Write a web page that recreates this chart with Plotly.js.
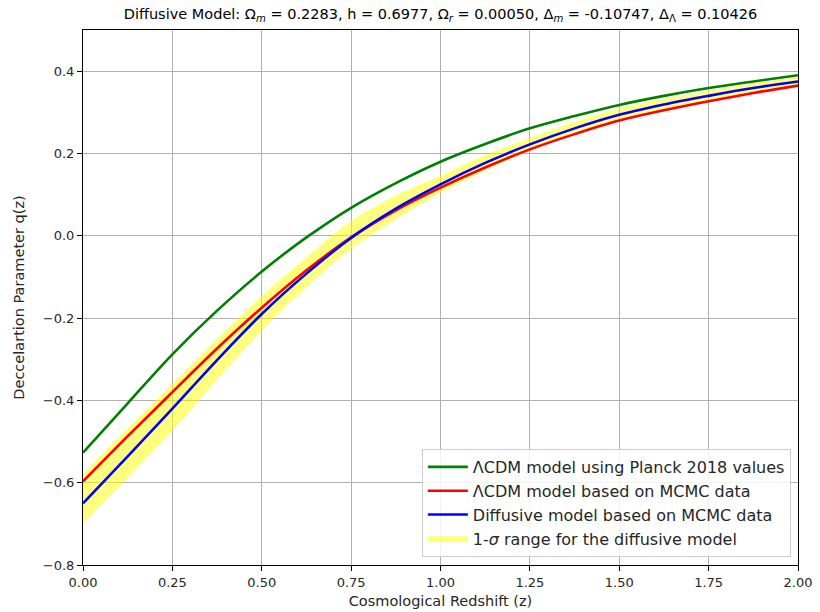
<!DOCTYPE html>
<html>
<head>
<meta charset="utf-8">
<script src="https://cdn.plot.ly/plotly-3.0.1.min.js"></script>
<style>html,body{margin:0;padding:0;background:#fff;}#chart{width:820px;height:612px;}</style>
</head>
<body>
<div id="chart"></div>
<script>
// Redshift samples
const z = [0, 0.125, 0.25, 0.375, 0.5, 0.625, 0.75, 0.875, 1.0, 1.125, 1.25, 1.375, 1.5, 1.625, 1.75, 1.875, 2.0];
// LCDM with Planck 2018 values (green)
const qPlanck = [-0.527, -0.407, -0.288, -0.182, -0.087, -0.004, 0.068, 0.128, 0.180, 0.223, 0.261, 0.291, 0.318, 0.340, 0.359, 0.375, 0.390];
// LCDM based on MCMC data (red)
const qLcdmMcmc = [-0.597, -0.487, -0.380, -0.274, -0.175, -0.084, -0.004, 0.062, 0.117, 0.166, 0.210, 0.247, 0.280, 0.305, 0.327, 0.347, 0.365];
// Diffusive model based on MCMC data (blue)
const qDiffusive = [-0.650, -0.536, -0.420, -0.302, -0.190, -0.092, -0.005, 0.066, 0.125, 0.177, 0.222, 0.261, 0.294, 0.319, 0.340, 0.359, 0.375];
// 1-sigma range for the diffusive model (yellow band)
const qUpper = [-0.580, -0.468, -0.360, -0.250, -0.146, -0.052, 0.036, 0.098, 0.146, 0.196, 0.238, 0.277, 0.309, 0.333, 0.352, 0.370, 0.386];
const qLower = [-0.700, -0.588, -0.474, -0.350, -0.231, -0.125, -0.032, 0.040, 0.104, 0.158, 0.206, 0.247, 0.280, 0.306, 0.328, 0.348, 0.365];

const yTicks = [-0.8, -0.6, -0.4, -0.2, 0.0, 0.2, 0.4];
const xTicks = [0, 0.25, 0.5, 0.75, 1.0, 1.25, 1.5, 1.75, 2.0];

const font = 'DejaVu Sans, sans-serif';

const traces = [
  {x: z, y: qLower, mode: 'lines', line: {width: 0, color: 'rgba(255,255,0,0)', shape: 'spline'},
   showlegend: false, hoverinfo: 'skip'},
  {x: z, y: qUpper, mode: 'lines', fill: 'tonexty', fillcolor: 'rgba(255,255,0,0.5)',
   line: {width: 0, color: 'rgba(255,255,0,0)', shape: 'spline'},
   name: '1-<i>σ</i> range for the diffusive model', legendrank: 4, legendgroup: 'd'},
  {x: z, y: qPlanck, mode: 'lines', line: {color: '#008000', width: 2.6, shape: 'spline'},
   name: 'ΛCDM model using Planck 2018 values', legendrank: 1, legendgroup: 'a'},
  {x: z, y: qLcdmMcmc, mode: 'lines', line: {color: '#ff0000', width: 2.6, shape: 'spline'},
   name: 'ΛCDM model based on MCMC data', legendrank: 2, legendgroup: 'b'},
  {x: z, y: qDiffusive, mode: 'lines', line: {color: '#0000ff', width: 2.6, shape: 'spline'},
   name: 'Diffusive model based on MCMC data', legendrank: 3, legendgroup: 'c'}
];

const layout = {
  width: 820, height: 612,
  margin: {l: 83, r: 22, t: 30, b: 47},
  paper_bgcolor: '#fff', plot_bgcolor: '#fff',
  font: {family: font, size: 13, color: '#262626'},
  title: {
    text: 'Diffusive Model: Ω<sub><i>m</i></sub> = 0.2283, h = 0.6977, Ω<sub><i>r</i></sub> = 0.00050, Δ<sub><i>m</i></sub> = -0.10747, Δ<sub>Λ</sub> = 0.10426',
    font: {family: font, size: 14.5, color: '#000'},
    x: 0.5, xref: 'paper', xanchor: 'center', y: 0.978, yanchor: 'middle'
  },
  xaxis: {
    range: [0, 2], tickvals: xTicks, tickformat: '.2f',
    showgrid: true, gridcolor: '#b0b0b0', gridwidth: 1,
    zeroline: false, showline: true, linecolor: '#000', linewidth: 1, mirror: true,
    ticks: 'outside', ticklen: 5, tickcolor: '#000', tickwidth: 1,
    tickfont: {family: font, size: 13, color: '#262626'},
    title: {text: 'Cosmological Redshift (z)', font: {family: font, size: 14.5, color: '#262626'}, standoff: 7}
  },
  yaxis: {
    range: [-0.8, 0.5], tickvals: yTicks, tickformat: '.1f',
    showgrid: true, gridcolor: '#b0b0b0', gridwidth: 1,
    zeroline: false, showline: true, linecolor: '#000', linewidth: 1, mirror: true,
    ticks: 'outside', ticklen: 5, tickcolor: '#000', tickwidth: 1,
    tickfont: {family: font, size: 13, color: '#262626'},
    title: {text: 'Deccelartion Parameter q(z)', font: {family: font, size: 14.5, color: '#262626'}, standoff: 14}
  },
  legend: {
    x: 0.99, xanchor: 'right', y: 0.015, yanchor: 'bottom',
    bgcolor: 'rgba(255,255,255,0.85)', bordercolor: '#cccccc', borderwidth: 1,
    font: {family: font, size: 16, color: '#262626'},
    tracegroupgap: 9, traceorder: 'normal', itemwidth: 40
  },
  showlegend: true
};

Plotly.newPlot('chart', traces, layout, {displayModeBar: false, staticPlot: true});
</script>
</body>
</html>
